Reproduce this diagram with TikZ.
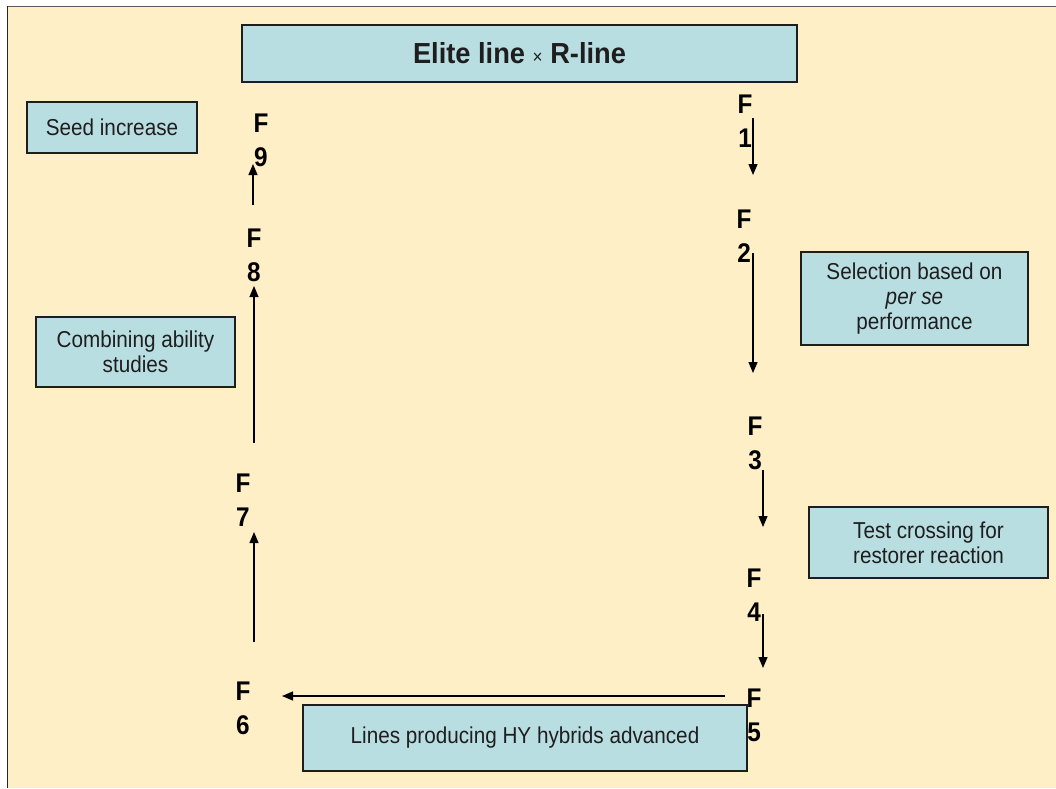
\documentclass[tikz,border=0pt]{standalone}
\usepackage{fontspec}
\setmainfont{Liberation Sans}
\newfontfamily\boxfont[FakeStretch=0.9]{Liberation Sans}
\newfontfamily\genfont[FakeStretch=0.9]{Liberation Sans}
\newfontfamily\titlefont[FakeStretch=0.94]{Liberation Sans}
\usetikzlibrary{arrows.meta}
\definecolor{cream}{RGB}{255,239,199}
\definecolor{boxblue}{RGB}{185,222,226}
\definecolor{ink}{RGB}{30,30,30}
\begin{document}
\begin{tikzpicture}[x=1pt,y=-1pt,
  infobox/.style={draw=ink, line width=1.2pt, fill=boxblue, inner sep=0pt,
    align=center, text=ink, font=\boxfont\fontsize{23}{25}\selectfont},
  gen/.style={font=\genfont\bfseries\fontsize{27}{34}\selectfont, align=center,
    inner sep=0pt, text=black},
  flow/.style={line width=1.2pt, draw=black,
    -{Triangle[length=11pt,width=9pt]}}]
  % page and frame
  \useasboundingbox (0,0) rectangle (1056,788);
  \fill[white] (0,0) rectangle (1056,788);
  \fill[cream] (7,6) rectangle (1056,788);
  \draw[line width=1.3pt, draw=black!65] (7,6.5) -- (1056,6.5);
  \draw[line width=1.5pt, draw=black!85] (7.5,6) -- (7.5,788);

  % text boxes
  \node[infobox, minimum width=555pt, minimum height=57pt,
        font=\titlefont\bfseries\fontsize{29}{30}\selectfont] (cross) at (519.5,53.5)
        {Elite line {\boxfont\mdseries\fontsize{19}{20}\selectfont\texttimes} R-line};
  \node[infobox, minimum width=170pt, minimum height=51pt] (seed) at (112,127.5)
        {Seed increase};
  \node[infobox, minimum width=199pt, minimum height=70pt] (comb) at (135.5,352)
        {Combining ability\\studies};
  \node[infobox, minimum width=227pt, minimum height=93pt] (sel) at (914.5,298.5)
        {Selection based on\\\textit{per se}\\performance};
  \node[infobox, minimum width=239pt, minimum height=71pt] (test) at (928.5,542.5)
        {Test crossing for\\restorer reaction};
  \node[infobox, minimum width=444pt, minimum height=66pt] (hyb) at (525,738)
        {Lines producing HY hybrids advanced};

  % generations
  \node[gen] (f1) at (745,121) {F\\1};
  \node[gen] (f2) at (744,236) {F\\2};
  \node[gen] (f3) at (755,443) {F\\3};
  \node[gen] (f4) at (754,595) {F\\4};
  \node[gen] (f5) at (754,715) {F\\5};
  \node[gen] (f6) at (243,708) {F\\6};
  \node[gen] (f7) at (243,500) {F\\7};
  \node[gen] (f8) at (254,255) {F\\8};
  \node[gen] (f9) at (261,140) {F\\9};

  % arrow end points
  \coordinate (a1s) at (753,118);  \coordinate (a1e) at (753,175);
  \coordinate (a2s) at (753,253);  \coordinate (a2e) at (753,373);
  \coordinate (a3s) at (763,470);  \coordinate (a3e) at (763,527);
  \coordinate (a4s) at (763,614);  \coordinate (a4e) at (763,668);
  \coordinate (a5s) at (725,696);  \coordinate (a5e) at (282,696);
  \coordinate (a6s) at (254,642);  \coordinate (a6e) at (254,532);
  \coordinate (a7s) at (254,443);  \coordinate (a7e) at (254,286);
  \coordinate (a8s) at (253,205);  \coordinate (a8e) at (253,164);

  % generation advance
  \draw[flow] (a1s) -- (a1e);
  \draw[flow] (a2s) -- (a2e);
  \draw[flow] (a3s) -- (a3e);
  \draw[flow] (a4s) -- (a4e);
  \draw[flow] (a5s) -- (a5e);
  \draw[flow] (a6s) -- (a6e);
  \draw[flow] (a7s) -- (a7e);
  \draw[flow] (a8s) -- (a8e);
\end{tikzpicture}
\end{document}
